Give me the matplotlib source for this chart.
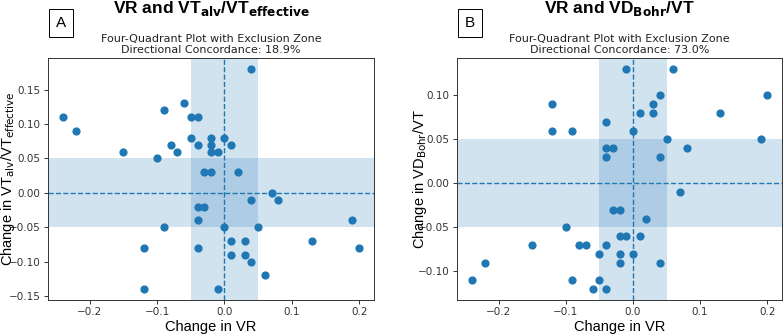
import numpy as np
import matplotlib
matplotlib.use("Agg")
import matplotlib.pyplot as plt

# panel A : VR vs VTalv/VTeffective
vr_a = [-0.24, -0.22, -0.15, -0.10, -0.09, -0.08, -0.07, -0.06, -0.05, -0.04, -0.05, -0.04,
        -0.02, -0.02, -0.02, -0.01, 0.00, 0.01, -0.03, -0.02, 0.02, 0.04, -0.04, -0.03,
        -0.04, -0.09, 0.00, 0.01, -0.12, -0.04, 0.01, -0.12, -0.01, 0.07, 0.08, 0.04,
        0.19, 0.05, 0.03, 0.13, 0.20, 0.03, 0.04, 0.06]
vt_a = [0.11, 0.09, 0.06, 0.05, 0.12, 0.07, 0.06, 0.13, 0.11, 0.11, 0.08, 0.07,
        0.08, 0.07, 0.06, 0.06, 0.08, 0.07, 0.03, 0.03, 0.03, 0.18, -0.02, -0.02,
        -0.04, -0.05, -0.05, -0.07, -0.08, -0.08, -0.09, -0.14, -0.14, 0.00, -0.01, -0.01,
        -0.04, -0.05, -0.07, -0.07, -0.08, -0.09, -0.10, -0.12]

# panel B : VR vs VDBohr/VT
vr_b = [-0.12, -0.12, -0.09, -0.04, -0.04, -0.03, -0.04, -0.01, 0.06, 0.04, 0.20, 0.03,
        0.01, 0.03, 0.13, 0.00, 0.05, 0.19, 0.08, 0.04,
        -0.03, -0.02, -0.10, -0.02, -0.15, -0.08, -0.07, -0.04, -0.05, -0.02, -0.22, -0.02,
        -0.24, -0.09, -0.05, -0.06, -0.04,
        0.07, 0.02, -0.01, 0.01, 0.00, 0.04]
vd_b = [0.09, 0.06, 0.06, 0.07, 0.04, 0.04, 0.03, 0.13, 0.13, 0.10, 0.10, 0.09,
        0.08, 0.08, 0.08, 0.06, 0.05, 0.05, 0.04, 0.03,
        -0.03, -0.03, -0.05, -0.06, -0.07, -0.07, -0.07, -0.07, -0.08, -0.08, -0.09, -0.09,
        -0.11, -0.11, -0.11, -0.12, -0.12,
        -0.01, -0.04, -0.06, -0.06, -0.08, -0.09]

zone = 0.05
panels = [
    (vr_a, vt_a, "A", r"VR and VT$_{\mathbf{alv}}$/VT$_{\mathbf{effective}}$",
     r"Change in VT$_{\mathrm{alv}}$/VT$_{\mathrm{effective}}$", "18.9%",
     [-0.15, -0.10, -0.05, 0.00, 0.05, 0.10, 0.15], 17),
    (vr_b, vd_b, "B", r"VR and VD$_{\mathbf{Bohr}}$/VT",
     r"Change in VD$_{\mathrm{Bohr}}$/VT", "73.0%", [-0.10, -0.05, 0.00, 0.05, 0.10], 429),
]

plt.rcParams["axes.linewidth"] = 0.7
plt.rcParams["axes.edgecolor"] = "#333333"

fig = plt.figure(figsize=(7.84, 3.36), dpi=100)
W, H = 784., 336.
boxes = [(48, 374), (457, 782)]
top, bottom = 58, 300
ah = bottom - top

for (x, y, tag, title, ylab, conc, yt, ylab_x), (l, r) in zip(panels, boxes):
    ax = fig.add_axes([l / W, 1 - bottom / H, (r - l) / W, ah / H])
    ax.axvspan(-zone, zone, color="C0", alpha=0.2, lw=0)
    ax.axhspan(-zone, zone, color="C0", alpha=0.2, lw=0)
    ax.axhline(0, color="C0", ls="--", lw=1.0)
    ax.axvline(0, color="C0", ls="--", lw=1.0)
    ax.scatter(x, y, s=24, color="C0", zorder=3)
    ax.set_xticks([-0.2, -0.1, 0.0, 0.1, 0.2])
    ax.set_yticks(yt)
    ax.tick_params(labelsize=7.5, length=2.8, width=0.7, pad=2.5, colors="#333333")
    ax.set_title("Four-Quadrant Plot with Exclusion Zone\nDirectional Concordance: " + conc,
                 fontsize=8, pad=3.5, color="#222222")
    ax.set_xlabel("Change in VR", fontsize=10.5, family="Liberation Sans", labelpad=2)
    ax.set_ylabel(ylab, fontsize=10.5, family="Liberation Sans")
    # label overlaps the tick labels, as in the source figure
    ax.yaxis.set_label_coords((ylab_x - l) / (r - l), 0.5)
    ax.text(0.5, 1 + 50 / ah, title, transform=ax.transAxes, ha="center",
            va="center", fontsize=12.5, fontweight="bold", family="Liberation Sans")
    ax.text(13 / (r - l), 1 + 35 / ah, tag, transform=ax.transAxes, ha="center",
            va="center", fontsize=11, family="Liberation Sans",
            bbox=dict(boxstyle="square,pad=0.45", fc="white", ec="black", lw=0.7))

fig.savefig("out.png", dpi=100)
